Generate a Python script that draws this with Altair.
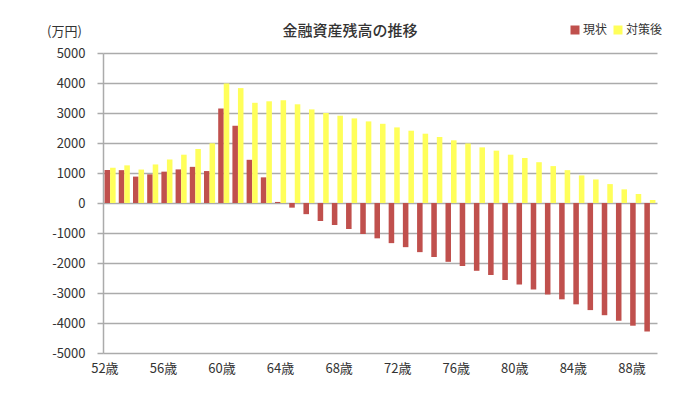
import altair as alt
import pandas as pd

ages = list(range(52, 91))
series = ["現状", "対策後"]
colors = ["#C0504D", "#FFFF5A"]

current = [1100, 1095, 880, 955, 1045, 1120, 1205, 1065, 3150, 2575, 1440, 855, 35,
           -155, -372, -600, -733, -867, -1033, -1178, -1338, -1472, -1638, -1800, -1961, -2100,
           -2260, -2400, -2567, -2717, -2883, -3050, -3211, -3378, -3570, -3740, -3925, -4090, -4285]
after = [1175, 1255, 1115, 1285, 1450, 1610, 1800, 1990, 3985, 3830, 3340, 3390, 3425,
         3290, 3120, 3000, 2910, 2820, 2720, 2640, 2520, 2410, 2310, 2200, 2090, 1985,
         1855, 1745, 1610, 1500, 1360, 1230, 1095, 920, 785, 630, 455, 300, 100]

tick_ages = [52, 56, 60, 64, 68, 72, 76, 80, 84, 88]
y_ticks = [-5000, -4000, -3000, -2000, -1000, 0, 1000, 2000, 3000, 4000, 5000]

rows = []
for a, c, f in zip(ages, current, after):
    rows.append({"age": a, "series": series[0], "value": c})
    rows.append({"age": a, "series": series[1], "value": f})
df = pd.DataFrame(rows)
lab_df = pd.DataFrame({"age": tick_ages})

FONT = "Noto Sans CJK JP"

bars = alt.Chart(df).mark_bar(strokeWidth=0).encode(
    x=alt.X("age:O", scale=alt.Scale(paddingInner=0.22, paddingOuter=0.11), axis=None),
    xOffset=alt.XOffset("series:N", sort=series, scale=alt.Scale(domain=series, paddingInner=0)),
    y=alt.Y("value:Q",
            scale=alt.Scale(domain=[-5000, 5000], nice=False),
            axis=alt.Axis(values=y_ticks, labelExpr="datum.value + ''",
                          title="(万円)", titleAngle=0, titleAlign="center",
                          titleBaseline="middle", titleX=-39, titleY=-22,
                          titleFontSize=13, titleFontWeight="normal", titleColor="#333",
                          titleFont=FONT,
                          grid=True, gridColor="#ababab", gridWidth=1.5,
                          domain=True, domainColor="#ababab", domainWidth=1.5,
                          ticks=True, tickColor="#ababab", tickWidth=1.5, tickSize=6,
                          labelPadding=12, labelFontSize=13, labelColor="#333",
                          labelFont=FONT)),
    color=alt.Color("series:N", sort=series,
                    scale=alt.Scale(domain=series, range=colors),
                    legend=alt.Legend(title=None, orient="none", direction="horizontal",
                                      legendX=466, legendY=-29,
                                      symbolType="square", symbolSize=81,
                                      symbolStrokeWidth=0, labelFontSize=12,
                                      labelFont=FONT, labelColor="#333",
                                      labelOffset=2, columnPadding=4)),
)

labels = alt.Chart(lab_df).mark_point(opacity=0).encode(
    x=alt.X("age:Q",
            scale=alt.Scale(domain=[51.904, 89.747], nice=False, zero=False),
            axis=alt.Axis(values=tick_ages, labelExpr="datum.value + '歳'",
                          grid=False, domain=False, ticks=False, title=None,
                          labelPadding=9, labelFontSize=13, labelColor="#333",
                          labelFont=FONT)),
    y=alt.value(0),
)

chart = alt.layer(bars, labels).resolve_scale(x="independent").properties(
    width=554, height=300,
    title=alt.TitleParams("金融資産残高の推移", anchor="middle", dx=-30, offset=-15,
                          fontSize=15, fontWeight=500, color="#333", font=FONT),
    autosize=alt.AutoSizeParams(type="none"),
    padding={"left": 95, "top": 45, "right": 30, "bottom": 40},
).configure_view(stroke=None)

chart.save("out.html", embed_options={"renderer": "svg", "actions": False})
